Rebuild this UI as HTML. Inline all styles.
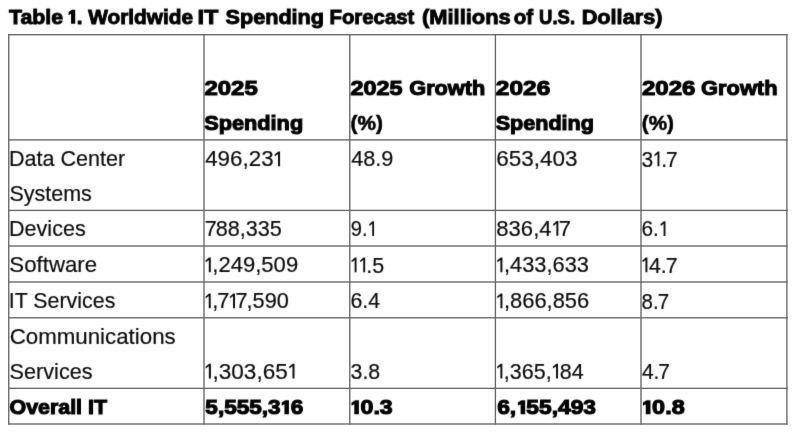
<!DOCTYPE html>
<html><head><meta charset="utf-8"><title>Table 1</title>
<style>
html,body{margin:0;padding:0;background:#fff;}
body{width:800px;height:438px;position:relative;overflow:hidden;font-family:"Liberation Sans",sans-serif;color:#111;}
#w{position:absolute;left:0;top:0;width:800px;height:438px;will-change:transform;filter:grayscale(1);}
#tx{position:absolute;left:0;top:0;width:800px;height:438px;filter:url(#soft);}
.x{position:absolute;left:0;top:0;white-space:pre;transform-origin:0 0;}
.x svg{display:inline-block;vertical-align:baseline;fill:currentColor;overflow:visible;}
.n svg{width:.38em;height:.66em;}
.b svg,.t svg{width:.44em;height:.67em;}
.x b{font-weight:inherit;margin:0 -1.1px;}
.n{font-weight:normal;color:#0c0c0c;-webkit-text-stroke:0.2px #0c0c0c;font-size:22.4px;line-height:22.4px;height:22.4px;}
.b{font-weight:bold;color:#000;-webkit-text-stroke:1.1px #000;font-size:21px;line-height:21px;height:21px;}
.t{font-weight:bold;color:#000;-webkit-text-stroke:0.95px #000;font-size:21px;line-height:21px;height:21px;}
</style></head><body><svg width="0" height="0" style="position:absolute"><defs><filter id="soft" x="0" y="0" width="100%" height="100%" color-interpolation-filters="sRGB"><feConvolveMatrix order="3" kernelMatrix="0.01000 0.08000 0.01000 0.08000 0.64000 0.08000 0.01000 0.08000 0.01000" divisor="1" edgeMode="duplicate" preserveAlpha="false"/></filter></defs></svg><div id="w">

<svg width="800" height="438" viewBox="0 0 800 438" style="position:absolute;left:0;top:0" fill="#6a6a6a">
<rect x="8.06" y="34.01" width="779.53" height="1.38"/>
<rect x="8.06" y="139.21" width="779.53" height="1.38"/>
<rect x="8.06" y="209.71" width="779.53" height="1.38"/>
<rect x="8.06" y="245.31" width="779.53" height="1.38"/>
<rect x="8.06" y="281.31" width="779.53" height="1.38"/>
<rect x="8.06" y="317.11" width="779.53" height="1.38"/>
<rect x="8.06" y="387.66" width="779.53" height="1.38"/>
<rect x="8.06" y="423.31" width="779.53" height="1.38"/>
<rect x="8.06" y="34.01" width="1.38" height="390.68"/>
<rect x="203.31" y="34.01" width="1.38" height="390.68"/>
<rect x="349.11" y="34.01" width="1.38" height="390.68"/>
<rect x="494.71" y="34.01" width="1.38" height="390.68"/>
<rect x="640.31" y="34.01" width="1.38" height="390.68"/>
<rect x="786.21" y="34.01" width="1.38" height="390.68"/>
</svg>
<div id="tx">
<span class="x t" style="transform:translate(9.02px,5.81px) scaleX(1.0139)">Table</span>
<span class="x t" style="transform:translate(67.51px,5.81px) scaleX(0.9895)"><svg class="o" viewBox="0 0 44 67"><path d="M37,0 L37,67 L17,67 L17,19 L5,26 L5,11 L21,0 Z"/></svg>.</span>
<span class="x t" style="transform:translate(88.17px,5.81px) scaleX(0.9918)">Worldwide</span>
<span class="x t" style="transform:translate(197.58px,5.77px) scaleX(1.1173)">IT</span>
<span class="x t" style="transform:translate(225.47px,5.79px) scaleX(1.0307)">Spending</span>
<span class="x t" style="transform:translate(329.45px,5.81px) scaleX(0.9700)">Forecast</span>
<span class="x t" style="transform:translate(421.97px,5.78px) scaleX(1.0427)">(Millions</span>
<span class="x t" style="transform:translate(513.63px,5.81px) scaleX(0.9743)">of</span>
<span class="x t" style="transform:translate(539.10px,5.81px) scaleX(0.8817)">U.S.</span>
<span class="x t" style="transform:translate(581.69px,5.81px) scaleX(1.0325)">Dollars)</span>
<span class="x b" style="transform:translate(204.47px,76.77px) scaleX(1.1394)">2025</span>
<span class="x b" style="transform:translate(204.19px,111.58px) scaleX(1.0345)">Spending</span>
<span class="x b" style="transform:translate(350.49px,76.78px) scaleX(1.1135)">2025</span>
<span class="x b" style="transform:translate(409.25px,76.77px) scaleX(1.0334)">Growth</span>
<span class="x b" style="-webkit-text-stroke-width:0.6px;transform:translate(350.55px,112.11px) scaleX(0.9889)">(%)</span>
<span class="x b" style="transform:translate(495.87px,76.77px) scaleX(1.1641)">2026</span>
<span class="x b" style="transform:translate(495.73px,111.59px) scaleX(1.0259)">Spending</span>
<span class="x b" style="transform:translate(642.00px,76.77px) scaleX(1.1433)">2026</span>
<span class="x b" style="transform:translate(701.11px,76.77px) scaleX(1.0389)">Growth</span>
<span class="x b" style="-webkit-text-stroke-width:0.6px;transform:translate(641.76px,112.13px) scaleX(0.9836)">(%)</span>
<span class="x n" style="transform:translate(9.00px,148.47px) scaleX(0.9628)">Data Center</span>
<span class="x n" style="transform:translate(9.40px,183.27px) scaleX(0.9605)">Systems</span>
<span class="x n" style="transform:translate(205.16px,148.46px) scaleX(0.9994)">496,23<svg class="o" viewBox="0 0 38 66"><path d="M31,0 L31,66 L22,66 L22,11 L9,21.5 L6.5,14 L23.5,0 Z"/></svg></span>
<span class="x n" style="transform:translate(351.14px,148.47px) scaleX(0.9703)">48.9</span>
<span class="x n" style="transform:translate(496.20px,148.43px) scaleX(1.0060)">653,403</span>
<span class="x n" style="transform:translate(641.60px,148.51px) scaleX(0.9388)">3<svg class="o" viewBox="0 0 38 66"><path d="M31,0 L31,66 L22,66 L22,11 L9,21.5 L6.5,14 L23.5,0 Z"/></svg>.<b>7</b></span>
<span class="x n" style="transform:translate(8.99px,218.07px) scaleX(0.9633)">Devices</span>
<span class="x n" style="transform:translate(205.75px,218.07px) scaleX(0.9670)"><b>7</b>88,335</span>
<span class="x n" style="transform:translate(350.71px,218.20px) scaleX(0.8999)">9.<svg class="o" viewBox="0 0 38 66"><path d="M31,0 L31,66 L22,66 L22,11 L9,21.5 L6.5,14 L23.5,0 Z"/></svg></span>
<span class="x n" style="transform:translate(496.31px,218.06px) scaleX(0.9859)">836,4<svg class="o" viewBox="0 0 38 66"><path d="M31,0 L31,66 L22,66 L22,11 L9,21.5 L6.5,14 L23.5,0 Z"/></svg><b>7</b></span>
<span class="x n" style="transform:translate(641.38px,218.23px) scaleX(0.9287)">6.<svg class="o" viewBox="0 0 38 66"><path d="M31,0 L31,66 L22,66 L22,11 L9,21.5 L6.5,14 L23.5,0 Z"/></svg></span>
<span class="x n" style="transform:translate(9.37px,254.45px) scaleX(0.9934)">Software</span>
<span class="x n" style="transform:translate(203.96px,254.46px) scaleX(0.9845)"><svg class="o" viewBox="0 0 38 66"><path d="M31,0 L31,66 L22,66 L22,11 L9,21.5 L6.5,14 L23.5,0 Z"/></svg>,249,509</span>
<span class="x n" style="transform:translate(349.91px,254.51px) scaleX(0.9571)"><svg class="o" viewBox="0 0 38 66"><path d="M31,0 L31,66 L22,66 L22,11 L9,21.5 L6.5,14 L23.5,0 Z"/></svg><svg class="o" viewBox="0 0 38 66"><path d="M31,0 L31,66 L22,66 L22,11 L9,21.5 L6.5,14 L23.5,0 Z"/></svg>.5</span>
<span class="x n" style="transform:translate(495.63px,254.47px) scaleX(0.9757)"><svg class="o" viewBox="0 0 38 66"><path d="M31,0 L31,66 L22,66 L22,11 L9,21.5 L6.5,14 L23.5,0 Z"/></svg>,433,633</span>
<span class="x n" style="transform:translate(640.78px,254.50px) scaleX(0.9529)"><svg class="o" viewBox="0 0 38 66"><path d="M31,0 L31,66 L22,66 L22,11 L9,21.5 L6.5,14 L23.5,0 Z"/></svg>4.<b>7</b></span>
<span class="x n" style="transform:translate(8.77px,290.48px) scaleX(0.9552)">IT Services</span>
<span class="x n" style="transform:translate(203.97px,290.49px) scaleX(0.9718)"><svg class="o" viewBox="0 0 38 66"><path d="M31,0 L31,66 L22,66 L22,11 L9,21.5 L6.5,14 L23.5,0 Z"/></svg>,<b>7</b><svg class="o" viewBox="0 0 38 66"><path d="M31,0 L31,66 L22,66 L22,11 L9,21.5 L6.5,14 L23.5,0 Z"/></svg><b>7</b>,590</span>
<span class="x n" style="transform:translate(350.52px,290.48px) scaleX(0.9505)">6.4</span>
<span class="x n" style="transform:translate(495.63px,290.47px) scaleX(0.9782)"><svg class="o" viewBox="0 0 38 66"><path d="M31,0 L31,66 L22,66 L22,11 L9,21.5 L6.5,14 L23.5,0 Z"/></svg>,866,856</span>
<span class="x n" style="transform:translate(641.54px,290.52px) scaleX(0.9150)">8.<b>7</b></span>
<span class="x n" style="transform:translate(9.63px,325.64px) scaleX(0.9961)">Communications</span>
<span class="x n" style="transform:translate(9.58px,360.67px) scaleX(0.9665)">Services</span>
<span class="x n" style="transform:translate(203.92px,360.65px) scaleX(1.0073)"><svg class="o" viewBox="0 0 38 66"><path d="M31,0 L31,66 L22,66 L22,11 L9,21.5 L6.5,14 L23.5,0 Z"/></svg>,303,65<svg class="o" viewBox="0 0 38 66"><path d="M31,0 L31,66 L22,66 L22,11 L9,21.5 L6.5,14 L23.5,0 Z"/></svg></span>
<span class="x n" style="transform:translate(350.54px,360.69px) scaleX(0.9513)">3.8</span>
<span class="x n" style="transform:translate(495.68px,360.69px) scaleX(0.9594)"><svg class="o" viewBox="0 0 38 66"><path d="M31,0 L31,66 L22,66 L22,11 L9,21.5 L6.5,14 L23.5,0 Z"/></svg>,365,<svg class="o" viewBox="0 0 38 66"><path d="M31,0 L31,66 L22,66 L22,11 L9,21.5 L6.5,14 L23.5,0 Z"/></svg>84</span>
<span class="x n" style="transform:translate(641.88px,360.71px) scaleX(0.9343)">4.<b>7</b></span>
<span class="x b" style="transform:translate(9.53px,396.18px) scaleX(1.0185)">Overall IT</span>
<span class="x b" style="transform:translate(205.32px,396.17px) scaleX(1.0756)">5,555,3<svg class="o" viewBox="0 0 44 67"><path d="M37,0 L37,67 L17,67 L17,19 L5,26 L5,11 L21,0 Z"/></svg>6</span>
<span class="x b" style="transform:translate(350.34px,396.18px) scaleX(1.1026)"><svg class="o" viewBox="0 0 44 67"><path d="M37,0 L37,67 L17,67 L17,19 L5,26 L5,11 L21,0 Z"/></svg>0.3</span>
<span class="x b" style="transform:translate(497.17px,396.17px) scaleX(1.0869)">6,<svg class="o" viewBox="0 0 44 67"><path d="M37,0 L37,67 L17,67 L17,19 L5,26 L5,11 L21,0 Z"/></svg>55,493</span>
<span class="x b" style="transform:translate(641.81px,396.17px) scaleX(1.1153)"><svg class="o" viewBox="0 0 44 67"><path d="M37,0 L37,67 L17,67 L17,19 L5,26 L5,11 L21,0 Z"/></svg>0.8</span>
</div>
</div></body></html>
